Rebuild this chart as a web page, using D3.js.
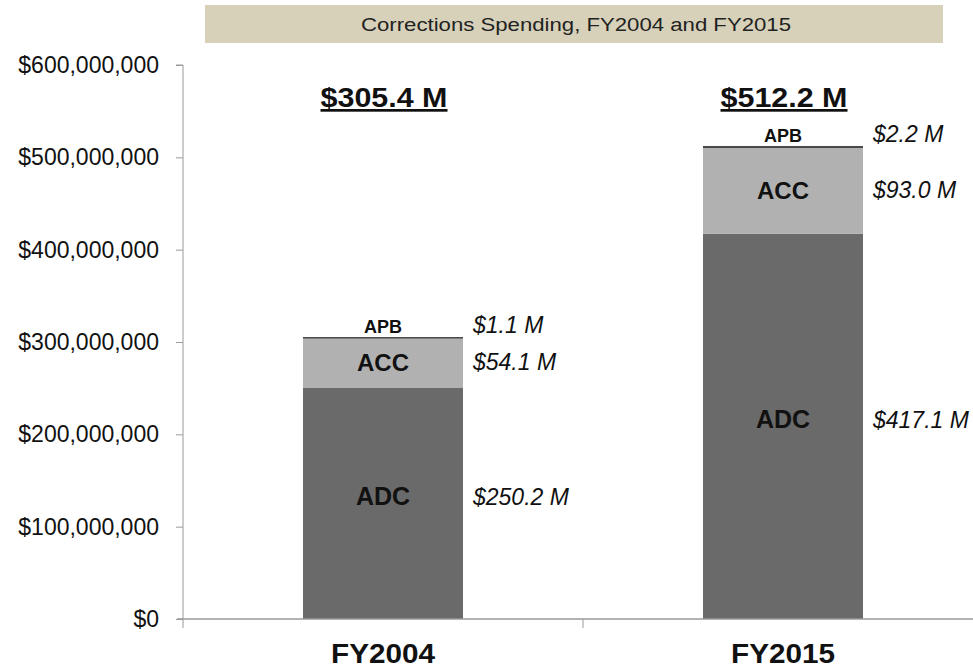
<!DOCTYPE html>
<html>
<head>
<meta charset="utf-8">
<script src="https://cdn.jsdelivr.net/npm/d3@7"></script>
<style>
  body { margin: 0; background: #fff; }
  svg text { font-family: "Liberation Sans", Arial, sans-serif; }
</style>
</head>
<body>
<div id="chart-area"></div>
<script>
// values in $ millions
const years = ['FY2004', 'FY2015'];
const adc = [250.2, 417.1];
const acc = [54.1, 93.0];
const apb = [1.1, 2.2];
const totalLabels = ['$305.4 M', '$512.2 M'];
const yTicks = [0, 100e6, 200e6, 300e6, 400e6, 500e6, 600e6];
const titleText = 'Corrections Spending, FY2004 and FY2015';

const widthSvg = 973;
const heightSvg = 669;
const margin = { top: 65, left: 183, bottom: 50 };
const axisRight = 983;
const baseY = heightSvg - margin.bottom;

const svg = d3.select('#chart-area').append('svg')
  .attr('width', widthSvg)
  .attr('height', heightSvg);

const scaleX = d3.scaleBand()
  .domain(years)
  .range([margin.left, axisRight])
  .paddingInner(0.6)
  .paddingOuter(0.3);

const scaleY = d3.scaleLinear()
  .domain([0, 600e6])
  .range([baseY, margin.top]);

// title box
svg.append('rect')
  .attr('x', 205).attr('y', 5)
  .attr('width', 738).attr('height', 38)
  .attr('fill', '#d7d1b9');
svg.append('text')
  .attr('x', 576).attr('y', 31)
  .attr('text-anchor', 'middle')
  .attr('font-size', '18px')
  .attr('fill', '#222')
  .attr('textLength', 430)
  .attr('lengthAdjust', 'spacingAndGlyphs')
  .text(titleText);

// y axis
const axisY = d3.axisLeft(scaleY)
  .tickValues(yTicks)
  .tickSize(7)
  .tickFormat(d => '$' + d3.format(',')(d));
const gY = svg.append('g')
  .attr('transform', `translate(${margin.left},0)`)
  .call(axisY);
gY.select('.domain').attr('stroke', '#9a9a9a').attr('d', `M-7,${scaleY(600e6)}H0V${baseY}`);
gY.selectAll('.tick line').attr('stroke', '#9a9a9a');
gY.selectAll('.tick text')
  .attr('x', -24)
  .attr('font-size', '23px')
  .attr('fill', '#111');

// stacked segments
const series = [
  { key: 'ADC', values: adc, fill: '#6a6a6a' },
  { key: 'ACC', values: acc, fill: '#b1b1b1' },
  { key: 'APB', values: apb, fill: '#4a4a4a' },
];
const M = 1e6;
years.forEach((yr, i) => {
  let base = 0;
  series.forEach(s => {
    const v = s.values[i];
    svg.append('rect')
      .attr('x', scaleX(yr))
      .attr('y', scaleY((base + v) * M))
      .attr('width', scaleX.bandwidth())
      .attr('height', Math.max(1.5, scaleY(base * M) - scaleY((base + v) * M)))
      .attr('fill', s.fill);
    base += v;
  });
});

// x axis line and separators
svg.append('line')
  .attr('x1', margin.left - 6).attr('x2', axisRight)
  .attr('y1', baseY).attr('y2', baseY)
  .attr('stroke', '#9a9a9a').attr('stroke-width', 1.5);
[margin.left, scaleX.step() + margin.left].forEach(x => {
  svg.append('line')
    .attr('x1', x).attr('x2', x)
    .attr('y1', baseY).attr('y2', baseY + 9)
    .attr('stroke', '#9a9a9a');
});

const axisX = d3.axisBottom(scaleX).tickSize(0);
const gX = svg.append('g')
  .attr('transform', `translate(0,${baseY})`)
  .call(axisX);
gX.select('.domain').remove();
gX.selectAll('.tick text')
  .attr('y', 44)
  .attr('dy', null)
  .attr('font-size', '27px')
  .attr('font-weight', 'bold')
  .attr('fill', '#111')
  .attr('textLength', 104)
  .attr('lengthAdjust', 'spacingAndGlyphs');

// labels
years.forEach((yr, i) => {
  const cx = scaleX(yr) + scaleX.bandwidth() / 2;
  const right = scaleX(yr) + scaleX.bandwidth() + 10;
  const yAdc = scaleY(adc[i] / 2 * M) - 7;
  const yAcc = scaleY((adc[i] + acc[i] / 2) * M);
  const topY = scaleY((adc[i] + acc[i] + apb[i]) * M);

  svg.append('text')
    .attr('x', cx).attr('y', yAdc + 9)
    .attr('text-anchor', 'middle')
    .attr('font-size', '25px').attr('font-weight', 'bold').attr('fill', '#111')
    .text('ADC');
  svg.append('text')
    .attr('x', cx).attr('y', yAcc + 8)
    .attr('text-anchor', 'middle')
    .attr('font-size', '24px').attr('font-weight', 'bold').attr('fill', '#111')
    .text('ACC');
  svg.append('text')
    .attr('x', cx).attr('y', topY - 4)
    .attr('text-anchor', 'middle')
    .attr('font-size', '18px').attr('font-weight', 'bold').attr('fill', '#111')
    .text('APB');

  const valStyle = sel => sel
    .attr('x', right)
    .attr('font-size', '23px').attr('font-style', 'italic').attr('fill', '#111');
  svg.append('text').call(valStyle).attr('y', yAdc + 9).text(`$${adc[i].toFixed(1)} M`);
  svg.append('text').call(valStyle).attr('y', yAcc + 7).text(`$${acc[i].toFixed(1)} M`);
  svg.append('text').call(valStyle).attr('y', topY - 4).text(`$${apb[i].toFixed(1)} M`);

  svg.append('text')
    .attr('x', cx + 1).attr('y', 107)
    .attr('text-anchor', 'middle')
    .attr('font-size', '27px').attr('font-weight', 'bold').attr('fill', '#111')
    .attr('text-decoration', 'underline')
    .attr('textLength', 127)
    .attr('lengthAdjust', 'spacingAndGlyphs')
    .text(totalLabels[i]);
});
</script>
</body>
</html>
